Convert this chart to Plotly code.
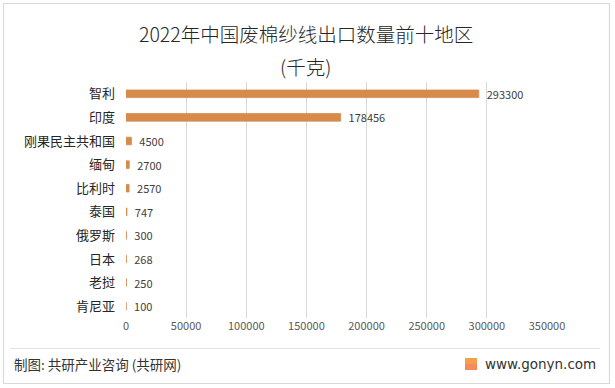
import plotly.graph_objects as go

categories = ["智利", "印度", "刚果民主共和国", "缅甸", "比利时", "泰国", "俄罗斯", "日本", "老挝", "肯尼亚"]
values = [293300, 178456, 4500, 2700, 2570, 747, 300, 268, 250, 100]
x_ticks = [0, 50000, 100000, 150000, 200000, 250000, 300000, 350000]

title_line1 = "2022年中国废棉纱线出口数量前十地区"
title_line2 = "(千克)"
footer_left = "制图: 共研产业咨询 (共研网)"
footer_right = "www.gonyn.com"

FONT = "Noto Sans CJK SC, Microsoft YaHei, sans-serif"
BAR = "#D68B4C"

L, R, T, B = 126, 547, 82, 318
PW, PH = R - L, B - T


def px(x):
    return (x - L) / PW


def py(y):
    return (B - y) / PH


fig = go.Figure(go.Bar(
    x=values, y=categories, orientation="h",
    marker=dict(color=BAR, line=dict(color=BAR, width=0.8)),
    text=["\u00a0\u00a0" + str(v) for v in values], textposition="outside", constraintext="none",
    textfont=dict(size=11, color="#404040", family=FONT),
    cliponaxis=False, hoverinfo="skip",
))

fig.update_layout(
    width=615, height=388,
    margin=dict(l=L, r=615 - R, t=T, b=388 - B, autoexpand=False),
    paper_bgcolor="white", plot_bgcolor="white",
    bargap=0.68,
    showlegend=False,
    font=dict(family=FONT),
    xaxis=dict(range=[0, 350000], tickvals=x_ticks, ticktext=[str(t) for t in x_ticks],
               showgrid=True, gridcolor="#D9D9D9", gridwidth=1, zeroline=False,
               showline=False, ticks="", tickfont=dict(size=11, color="#595959"),
               automargin=False),
    yaxis=dict(autorange="reversed", showgrid=False, zeroline=False, showline=False,
               ticks="", ticklabelstandoff=10, tickfont=dict(size=13, color="#262626"),
               automargin=False),
    shapes=[
        dict(type="rect", xref="paper", yref="paper", x0=px(3.5), x1=px(609.5),
             y0=py(383.5), y1=py(3.5), line=dict(color="#D9D9D9", width=1.2)),
        dict(type="line", xref="paper", yref="paper", x0=px(10), x1=px(600),
             y0=py(348.5), y1=py(348.5), line=dict(color="#E3E3E3", width=1)),
        dict(type="rect", xref="paper", yref="paper", x0=px(465), x1=px(477),
             y0=py(370), y1=py(364), line=dict(width=0), fillcolor="#F58A5C"),
        dict(type="rect", xref="paper", yref="paper", x0=px(465), x1=px(477),
             y0=py(364), y1=py(358), line=dict(width=0), fillcolor="#F4A04A"),
    ],
    annotations=[
        dict(text=title_line1, x=px(306), y=py(33), xref="paper", yref="paper",
             xanchor="center", yanchor="middle", showarrow=False,
             font=dict(size=19.5, color="#262626", family=FONT, weight=300)),
        dict(text=title_line2, x=px(305), y=py(67), xref="paper", yref="paper",
             xanchor="center", yanchor="middle", showarrow=False,
             font=dict(size=19.5, color="#262626", family=FONT, weight=300)),
        dict(text=footer_left, x=px(12), y=py(364), xref="paper", yref="paper",
             xanchor="left", yanchor="middle", showarrow=False,
             font=dict(size=13.5, color="#333333", family=FONT)),
        dict(text=footer_right, x=px(598), y=py(364), xref="paper", yref="paper",
             xanchor="right", yanchor="middle", showarrow=False,
             font=dict(size=13.5, color="#333333", family="Verdana, DejaVu Sans, sans-serif")),
    ],
)

fig.write_html("out.html", config={"displayModeBar": False},
               post_script="document.body.style.margin='0';document.body.style.padding='0';")
